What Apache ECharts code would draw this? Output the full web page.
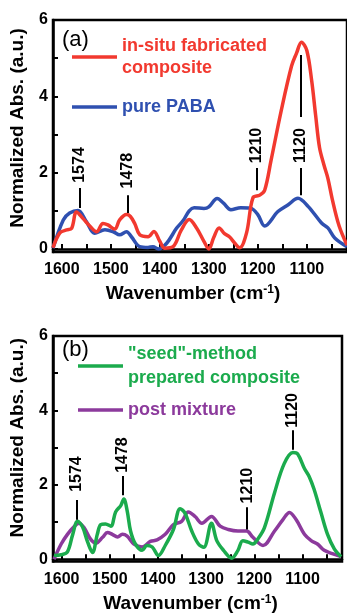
<!DOCTYPE html>
<html>
<head>
<meta charset="utf-8">
<script src="https://cdn.jsdelivr.net/npm/echarts@6/dist/echarts.min.js"></script>
<style>
html, body { margin: 0; padding: 0; background: #fff; }
#chart { width: 347px; height: 614px; }
</style>
</head>
<body>
<div id="chart"></div>
<script>
// ---- panel (a) ----
const waveRed = [1618, 1604, 1590, 1580, 1570, 1557, 1543, 1529, 1516, 1506, 1492, 1482, 1468, 1460, 1451, 1441, 1424, 1412, 1400, 1390, 1373, 1356, 1340, 1325, 1310, 1300, 1290, 1279, 1268, 1258, 1247, 1237, 1223, 1210, 1196, 1186, 1173, 1152, 1131, 1121, 1111, 1100, 1090, 1082, 1074, 1065, 1057, 1048, 1034, 1018];
const absRed = [0.03, 0.42, 0.5, 0.54, 0.97, 0.8, 0.6, 0.45, 0.67, 0.63, 0.52, 0.76, 0.9, 0.85, 0.66, 0.37, 0.32, 0.46, 0.2, 0.02, 0.06, 0.5, 0.77, 0.55, 0.2, 0.0, 0.3, 0.55, 0.4, 0.32, 0.15, 0.03, 0.42, 1.34, 1.41, 1.54, 2.32, 3.64, 4.8, 5.13, 5.42, 5.2, 4.4, 3.5, 2.65, 2.2, 1.85, 1.3, 0.6, 0.1];

const waveBlue = [1618, 1597, 1584, 1567, 1550, 1533, 1512, 1495, 1482, 1468, 1458, 1441, 1424, 1414, 1403, 1386, 1366, 1352, 1340, 1330, 1310, 1300, 1283, 1270, 1255, 1235, 1215, 1200, 1186, 1159, 1138, 1118, 1097, 1070, 1057, 1043, 1018];
const absBlue = [0.02, 0.76, 0.94, 1.01, 0.72, 0.41, 0.5, 0.45, 0.37, 0.45, 0.32, 0.06, 0.04, 0.06, 0.0, 0.15, 0.54, 0.75, 1.0, 1.08, 1.06, 1.1, 1.32, 1.2, 1.03, 1.08, 1.07, 0.9, 0.6, 0.98, 1.16, 1.33, 1.11, 0.68, 0.55, 0.29, 0.06];

// peak marks (a)
const peakNamesA = ['1574', '1478', '1210', '1120'];
const peakXA = [1563, 1465, 1203, 1112];
const peakTextYA = [2.2, 2.05, 2.71, 2.71];
const segXA = [1563, 1465, 1203, 1112, 1112];
const segLowA = [1.07, 0.94, 1.54, 1.41, 3.46];
const segHighA = [1.6, 1.41, 2.12, 2.12, 5.08];

// ---- panel (b) ----
const waveGreen = [1616, 1601, 1588, 1577, 1567, 1557, 1546, 1536, 1526, 1519, 1509, 1498, 1488, 1477, 1471, 1464, 1457, 1447, 1433, 1423, 1412, 1399, 1385, 1368, 1354, 1344, 1330, 1316, 1305, 1289, 1278, 1264, 1247, 1234, 1224, 1213, 1203, 1193, 1179, 1158, 1138, 1120, 1110, 1096, 1086, 1076, 1062, 1048, 1034, 1020];
const absGreen = [0.1, 0.12, 0.2, 0.67, 1.02, 0.88, 0.46, 0.18, 0.67, 0.93, 0.95, 0.89, 1.27, 1.45, 1.62, 1.3, 0.76, 0.41, 0.24, 0.37, 0.33, 0.1, 0.37, 0.8, 1.36, 1.24, 0.76, 0.41, 0.32, 0.97, 0.5, 0.24, 0.03, 0.24, 0.5, 0.46, 0.41, 0.54, 0.85, 1.79, 2.57, 2.87, 2.83, 2.44, 2.22, 1.88, 1.27, 0.67, 0.28, 0.07];

const wavePurple = [1616, 1601, 1588, 1574, 1564, 1553, 1540, 1529, 1515, 1505, 1495, 1484, 1474, 1464, 1450, 1433, 1416, 1402, 1385, 1368, 1351, 1337, 1323, 1309, 1289, 1271, 1254, 1234, 1216, 1203, 1182, 1158, 1141, 1127, 1113, 1096, 1082, 1069, 1055, 1038, 1020];
const absPurple = [0.0, 0.41, 0.67, 0.88, 0.97, 0.84, 0.54, 0.43, 0.59, 0.72, 0.67, 0.6, 0.67, 0.62, 0.41, 0.33, 0.48, 0.52, 0.67, 0.93, 1.02, 1.27, 1.15, 0.97, 1.15, 0.89, 0.8, 0.76, 0.76, 0.59, 0.37, 0.76, 1.06, 1.26, 1.06, 0.67, 0.5, 0.41, 0.24, 0.15, 0.07];

// peak marks (b)
const peakNamesB = ['1574', '1478', '1210', '1120'];
const peakXB = [1568, 1473, 1215, 1120];
const peakTextYB = [2.29, 2.8, 1.98, 4.0];
const segXB = [1568, 1473, 1215, 1120];
const segLowB = [1.06, 1.72, 0.8, 2.94];
const segHighB = [1.59, 2.24, 1.4, 3.47];

// axes
const xLabelValues = [1600, 1500, 1400, 1300, 1200, 1100];
const xTickValues = [1600, 1550, 1500, 1450, 1400, 1350, 1300, 1250, 1200, 1150, 1100, 1050];
const yLabelValues = [0, 2, 4, 6];
const yTickValues = [0, 1, 2, 3, 4, 5, 6];

const nameRed = 'in-situ fabricated\ncomposite';
const nameBlue = 'pure PABA';
const nameGreen = '"seed"-method\nprepared composite';
const namePurple = 'post mixture';

const colRed = '#f2392f', colBlue = '#2f50b0', colGreen = '#1bab4d', colPurple = '#8c3a9c';
const FONT = '"Liberation Sans", Arial, sans-serif';

const zip = (xs, ys) => xs.map((x, i) => [x, ys[i]]);

function xAxisFor(idx) {
  return {
    type: 'value', gridIndex: idx, min: 1018, max: 1618, inverse: true,
    name: 'Wavenumber (cm{sup|-1})', nameLocation: 'middle', nameGap: 32,
    nameTextStyle: {
      fontFamily: FONT, fontSize: 19, fontWeight: 'bold', color: '#000',
      padding: [0, 14, 0, 0],
      rich: { sup: { fontFamily: FONT, fontSize: 12, fontWeight: 'bold', color: '#000', verticalAlign: 'top', padding: [0, 0, 8, 0] } }
    },
    axisLine: { show: true, lineStyle: { color: '#000', width: 2.5 } },
    axisTick: { show: true, inside: true, length: 5, customValues: xTickValues, lineStyle: { color: '#000', width: 2 } },
    axisLabel: { customValues: xLabelValues, formatter: v => String(v), margin: 10, fontFamily: FONT, fontSize: 16, fontWeight: 'bold', color: '#000' },
    splitLine: { show: false }
  };
}
function yAxisFor(idx, shift) {
  return {
    type: 'value', gridIndex: idx, min: idx === 0 ? -0.08 : -0.06, max: 6,
    name: 'Normalized Abs. (a.u.)', nameLocation: 'middle', nameGap: 26,
    nameTextStyle: { fontFamily: FONT, fontSize: 19, fontWeight: 'bold', color: '#000', padding: [0, 0, 0, shift] },
    axisLine: { show: true, lineStyle: { color: '#000', width: 2.5 } },
    axisTick: { show: true, inside: true, length: 5, customValues: yTickValues, lineStyle: { color: '#000', width: 2 } },
    axisLabel: { customValues: yLabelValues, margin: 5, fontFamily: FONT, fontSize: 16, fontWeight: 'bold', color: '#000' },
    splitLine: { show: false }
  };
}
function curve(name, xs, ys, color, idx) {
  return {
    name: name, type: 'line', xAxisIndex: idx, yAxisIndex: idx,
    data: zip(xs, ys), smooth: 0.35, symbol: 'none',
    lineStyle: { color: color, width: 3.5 }, itemStyle: { color: color }, z: 3
  };
}
function peakSegments(xs, lows, highs, idx) {
  return {
    type: 'lines', coordinateSystem: 'cartesian2d', xAxisIndex: idx, yAxisIndex: idx,
    data: xs.map((x, i) => ({ coords: [[x, lows[i]], [x, highs[i]]] })),
    lineStyle: { color: '#000', width: 2, opacity: 1 }, z: 4, silent: true
  };
}
function peakTexts(names, xs, ys, idx) {
  return {
    type: 'scatter', xAxisIndex: idx, yAxisIndex: idx, symbolSize: 0,
    data: names.map((n, i) => ({ name: n, value: [xs[i], ys[i]] })),
    label: {
      show: true, position: 'inside', rotate: 90, formatter: '{b}',
      fontFamily: FONT, fontSize: 16, fontWeight: 'bold', color: '#000',
      textBorderWidth: 0, textBorderColor: 'transparent', opacity: 1
    },
    z: 5, silent: true
  };
}

const chart = echarts.init(document.getElementById('chart'), null, { renderer: 'canvas' });
chart.setOption({
  animation: false,
  backgroundColor: '#fff',
  grid: [
    { left: 53, right: -1, top: 20, bottom: 362, show: true, borderColor: '#000', borderWidth: 2.5 },
    { left: 53, right: 5, top: 336, bottom: 46, show: true, borderColor: '#000', borderWidth: 2.5 }
  ],
  xAxis: [xAxisFor(0), xAxisFor(1)],
  yAxis: [yAxisFor(0, 16), yAxisFor(1, 22)],
  legend: [
    {
      left: 72, top: 31, orient: 'vertical', padding: 0, itemGap: 13, itemWidth: 45, itemHeight: 3.5, icon: 'rect',
      textStyle: { fontFamily: FONT, fontSize: 18, fontWeight: 'bold', lineHeight: 22 },
      data: [
        { name: nameRed, textStyle: { color: colRed, padding: [8, 0, 0, 0] } },
        { name: nameBlue, textStyle: { color: colBlue } }
      ]
    },
    {
      left: 78, top: 342, orient: 'vertical', padding: 0, itemGap: 8, itemWidth: 45, itemHeight: 3.5, icon: 'rect',
      textStyle: { fontFamily: FONT, fontSize: 18, fontWeight: 'bold', lineHeight: 24 },
      data: [
        { name: nameGreen, textStyle: { color: colGreen } },
        { name: namePurple, textStyle: { color: colPurple } }
      ]
    }
  ],
  graphic: [
    { type: 'text', left: 62, top: 29, style: { text: '(a)', font: '22px ' + FONT, fill: '#000' } },
    { type: 'text', left: 62, top: 339, style: { text: '(b)', font: '22px ' + FONT, fill: '#000' } }
  ],
  series: [
    curve(nameBlue, waveBlue, absBlue, colBlue, 0),
    curve(nameRed, waveRed, absRed, colRed, 0),
    peakSegments(segXA, segLowA, segHighA, 0),
    peakTexts(peakNamesA, peakXA, peakTextYA, 0),
    curve(namePurple, wavePurple, absPurple, colPurple, 1),
    curve(nameGreen, waveGreen, absGreen, colGreen, 1),
    peakSegments(segXB, segLowB, segHighB, 1),
    peakTexts(peakNamesB, peakXB, peakTextYB, 1)
  ]
});
</script>
</body>
</html>
